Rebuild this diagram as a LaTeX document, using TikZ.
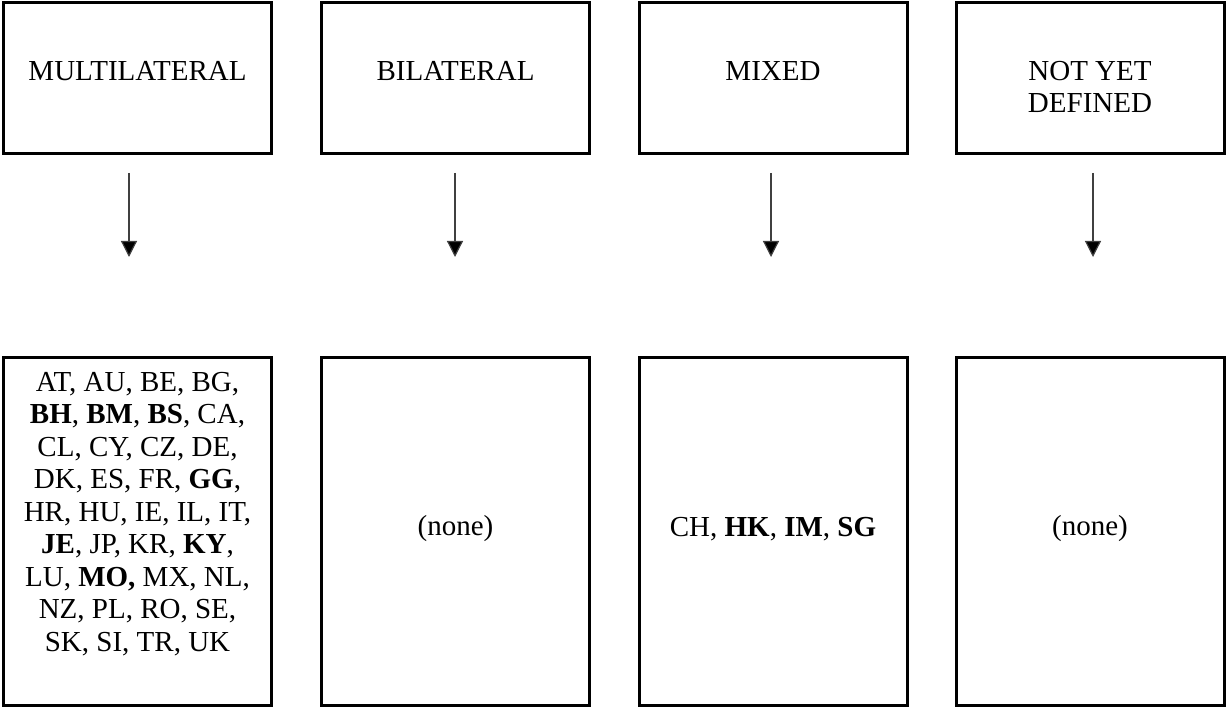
\documentclass[tikz,border=0pt]{standalone}
\usepackage{fontspec}
\setmainfont{Liberation Serif}
\usetikzlibrary{arrows.meta}
\begin{document}
\begin{tikzpicture}[x=1pt,y=-1pt,
  box/.style={draw,line width=3pt,minimum width=268pt,inner sep=0pt},
  headbox/.style={box,minimum height=151pt},
  listbox/.style={box,minimum height=347pt},
  lbl/.style={font=\fontsize{29}{32.5}\selectfont,align=center,inner sep=0pt},
  link/.style={line width=1.2pt,draw=black!75,-{Triangle[width=16pt,length=16pt,fill=black]}}]
\useasboundingbox (0,0) rectangle (1226,708);

% category boxes
\node[headbox] (h1) at (137.5,78) {};
\node[headbox] (h2) at (455.5,78) {};
\node[headbox] (h3) at (773,78) {};
\node[headbox] (h4) at (1090,78) {};
\node[lbl] (t1) at (137.5,71) {MULTILATERAL};
\node[lbl] (t2) at (455.5,71) {BILATERAL};
\node[lbl] (t3) at (773,71) {MIXED};
\node[lbl] (t4) at (1090,87) {NOT YET\\DEFINED};

% member lists
\node[listbox] (l1) at (137.5,531.5) {};
\node[listbox] (l2) at (455.5,531.5) {};
\node[listbox] (l3) at (773,531.5) {};
\node[listbox] (l4) at (1090,531.5) {};
\node[lbl,anchor=north] (m1) at (137.5,372) {AT, AU, BE, BG,\\
  \textbf{BH}, \textbf{BM}, \textbf{BS}, CA,\\
  CL, CY, CZ, DE,\\
  DK, ES, FR, \textbf{GG},\\
  HR, HU, IE, IL, IT,\\
  \textbf{JE}, JP, KR, \textbf{KY},\\
  LU, \textbf{MO,} MX, NL,\\
  NZ, PL, RO, SE,\\
  SK, SI, TR, UK};
\node[lbl] (m2) at (455.5,529) {(none)};
\node[lbl] (m3) at (773,529) {CH, \textbf{HK}, \textbf{IM}, \textbf{SG}};
\node[lbl] (m4) at (1090,529) {(none)};

% arrows
\foreach \i/\x in {1/129,2/455,3/771,4/1093}{
  \coordinate (s\i) at (\x,173);
  \coordinate (e\i) at (\x,257);
  \draw[link] (s\i) -- (e\i);
}
\end{tikzpicture}
\end{document}
